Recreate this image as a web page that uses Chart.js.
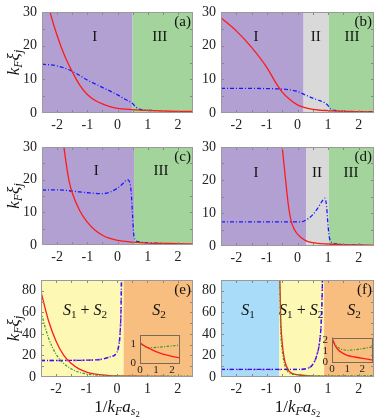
<!DOCTYPE html>
<html>
<head>
<meta charset="utf-8">
<script src="https://cdn.jsdelivr.net/npm/chart.js@4.4.0/dist/chart.umd.min.js"></script>
<style>
    html, body { margin: 0; padding: 0; background: #fff; }
    #wrap { position: relative; width: 382px; height: 417px; overflow: hidden; }
    canvas { position: absolute; }
</style>
</head>
<body>
<div id="wrap">
    <canvas id="pa" width="194" height="135" style="left:0;top:0"></canvas>
    <canvas id="pb" width="188" height="135" style="left:194px;top:0"></canvas>
    <canvas id="pc" width="194" height="133" style="left:0;top:135px"></canvas>
    <canvas id="pd" width="188" height="133" style="left:194px;top:135px"></canvas>
    <canvas id="pe" width="194" height="149" style="left:0;top:268px"></canvas>
    <canvas id="pf" width="188" height="149" style="left:194px;top:268px"></canvas>
    <canvas id="ie" width="64" height="52" style="left:120px;top:325px"></canvas>
    <canvas id="if" width="64" height="47" style="left:314px;top:328px"></canvas>
</div>
<script>
// ---- data ----
const xTicks = [-2, -1, 0, 1, 2];
const yTicksTop = [0, 10, 20, 30];
const yTicksBottom = [0, 20, 40, 60, 80];
const insetXTicks = [0, 1, 2];
const insetETicks = [0, 1];
const insetFTicks = [0, 1, 2];

// (a)
const aRedX = [-2.5, -2.25, -2, -1.75, -1.5, -1.25, -1, -0.75, -0.5, -0.25, 0, 0.5, 1, 1.5, 2, 2.5];
const aRedY = [40, 30.5, 23, 17, 12.3, 8.3, 5.5, 3.8, 2.7, 1.9, 1.4, 1.0, 0.75, 0.6, 0.5, 0.45];
const aBlueX = [-2.5, -2, -1.5, -1, -0.5, 0, 0.25, 0.5, 0.6, 0.75, 1, 1.3];
const aBlueY = [14.5, 14, 12.4, 9.8, 7.6, 5.4, 4.1, 2.8, 1.8, 1.1, 0.8, 0.7];
const aBounds = [-2.5, 0.5, 2.5];
const aLabels = ['I', 'III'];

// (b)
const bRedX = [-2.5, -2, -1.5, -1, -0.75, -0.5, -0.25, 0, 0.25, 0.5, 1, 1.5, 2, 2.5];
const bRedY = [28.3, 24.4, 19.5, 13.5, 9.6, 6.2, 4, 2.4, 1.6, 1.1, 0.7, 0.5, 0.4, 0.3];
const bBlueX = [-2.5, -2, -1.5, -1, -0.5, -0.25, 0, 0.25, 0.5, 0.75, 0.9, 1, 1.1, 1.3, 1.6, 2, 2.5];
const bBlueY = [7.3, 7.3, 7.3, 7.25, 7.1, 6.9, 6.4, 5.4, 4.4, 3.6, 3.0, 2.2, 1.1, 0.7, 0.5, 0.4, 0.35];
const bBounds = [-2.5, 0.2, 1.03, 2.5];
const bLabels = ['I', 'II', 'III'];

// (c)
const cRedX = [-2, -1.8, -1.7, -1.6, -1.5, -1.25, -1, -0.75, -0.5, -0.25, 0, 0.5, 1, 1.5, 2, 2.5];
const cRedY = [50, 32, 25, 19.5, 16, 10.5, 7, 4.6, 3, 2, 1.4, 0.9, 0.6, 0.5, 0.4, 0.35];
const cBlueX = [-2.5, -2, -1.5, -1, -0.5, -0.25, 0, 0.2, 0.33, 0.4, 0.45, 0.5, 0.53, 0.57, 0.7, 1, 1.5];
const cBlueY = [16.8, 16.9, 16.5, 16, 15.7, 16.2, 17.4, 19, 20, 19.3, 16.5, 9, 4, 1.8, 1, 0.7, 0.5];
const cBounds = [-2.5, 0.55, 2.5];
const cLabels = ['I', 'III'];

// (d)
const dRedX = [-0.6, -0.5, -0.4, -0.3, -0.2, -0.1, 0, 0.25, 0.5, 1, 1.5, 2, 2.5];
const dRedY = [40, 30, 21, 12.5, 7.3, 5, 3.6, 1.7, 1.0, 0.6, 0.4, 0.3, 0.25];
const dBlueX = [-2.5, -1, 0, 0.2, 0.35, 0.5, 0.65, 0.8, 0.9, 0.95, 1, 1.05, 1.15, 1.4, 1.8, 2.1];
const dBlueY = [7.3, 7.3, 7.3, 7.5, 8.3, 9.5, 11.3, 13.5, 14.5, 12, 6, 2.2, 1, 0.5, 0.3, 0.3];
const dBounds = [-2.5, 0.28, 1.03, 2.5];
const dLabels = ['I', 'II', 'III'];

// (e)
const eRedX = [-2.5, -2.25, -2, -1.75, -1.5, -1.25, -1, -0.75, -0.5, -0.25, 0, 0.5, 1, 1.5, 2, 2.5];
const eRedY = [79, 52, 33, 20, 12.5, 7.5, 4.6, 2.9, 1.9, 1.35, 1.07, 0.8, 0.6, 0.45, 0.35, 0.27];
const eGreenY = [60, 36, 21, 12.5, 7.5, 4.5, 2.8, 1.9, 1.4, 1.15, 1.05, 0.8, 0.82, 0.86, 0.9, 0.95];
const eBlueX = [-2.5, -2, -1.5, -1, -0.5, -0.25, 0, 0.05, 0.1, 0.13, 0.15];
const eBlueY = [15.3, 15.3, 15.4, 15.6, 16.5, 18.5, 23, 28, 40, 60, 95];
const eMagY = [15.3, 15.3, 15.4, 15.6, 16.5, 18.5, 23, 28, 40, 60, 95];
const eBounds = [-2.5, 0.22, 2.5];

// (f)
const fRedX = [-0.58, -0.55, -0.5, -0.45, -0.4, -0.3, -0.2, -0.1, 0, 0.2, 0.4, 0.7, 1, 1.5, 2, 2.5, 2.7];
const fRedY = [95, 55, 32, 20, 13, 6.5, 3.6, 2.6, 2.2, 1.5, 1.1, 0.8, 0.6, 0.45, 0.32, 0.22, 0.18];
const fGreenY = [90, 45, 25, 15, 9.5, 4.5, 2.8, 2.3, 2.0, 1.6, 1.3, 1.12, 1.05, 1.1, 1.2, 1.32, 1.36];
const fBlueX = [-2.5, -1.5, -0.5, 0, 0.2, 0.35, 0.45, 0.55, 0.65, 0.72, 0.77, 0.8, 0.82];
const fBlueY = [7, 7, 7, 7, 7.3, 8.3, 10, 14, 22, 32, 48, 70, 95];
const fMagY = [7, 7, 7, 7, 7.3, 8.3, 10, 14, 22, 32, 48, 70, 95];
const fBounds = [-2.5, -0.6, 0.87, 2.5];

// ---- styles ----
const FONT = '"Liberation Serif", "DejaVu Serif", serif';
const PURPLE = '#b3a0d3', GREEN = '#a2d49c', GRAY = '#d9d9d9';
const YELLOW = '#fdf8b4', ORANGE = '#f7be80', BLUE = '#a9dcf8';
Chart.defaults.font.family = FONT;

const red = (x, y) => ({ x, y, color: '#ff1a1a', w: 1.3 });
const blue = (x, y) => ({ x, y, color: '#1a1aff', w: 1.3, dash: [4, 2, 1, 2] });
const green = (x, y) => ({ x, y, color: '#3c9a24', w: 1.2, dash: [2.5, 1.5, 1, 1.5] });
const magenta = (x, y) => ({ x, y, color: '#d050d0', w: 1.6, dash: [4, 4] });

// rich text: segments [text, style] where style has i (italic), s (sub), ss (sub-sub)
function drawRich(ctx, segs, x, y, size, align) {
    const parts = segs.map(([t, st]) => {
        const sc = st.includes('ss') ? 0.5 : st.includes('s') ? 0.7 : 1;
        const dy = st.includes('ss') ? size * 0.42 : st.includes('s') ? size * 0.24 : 0;
        const font = (st.includes('i') ? 'italic ' : '') + (size * sc).toFixed(1) + 'px ' + FONT;
        ctx.font = font;
        return { t, font, dy, w: ctx.measureText(t).width };
    });
    const total = parts.reduce((s, p) => s + p.w, 0);
    let cx = align === 'center' ? x - total / 2 : align === 'right' ? x - total : x;
    ctx.textBaseline = 'middle';
    ctx.textAlign = 'left';
    parts.forEach(p => {
        ctx.font = p.font;
        ctx.fillText(p.t, cx, y + p.dy);
        cx += p.w;
    });
}

const Y_TITLE = [['k', 'i'], ['F', 'is'], ['ξ', 'i'], ['j', 'is']];
const X_TITLE = [['1/', ''], ['k', 'i'], ['F', 'is'], ['a', 'i'], ['s', 'is'], ['2', 'ss']];

function deco(cfg) {
    return {
        id: 'deco',
        beforeDatasetsDraw(chart) {
            const { ctx, chartArea: a, scales: { x, y } } = chart;
            ctx.save();
            if (cfg.bounds) {
                for (let i = 0; i < cfg.colors.length; i++) {
                    const x0 = x.getPixelForValue(cfg.bounds[i]);
                    const x1 = x.getPixelForValue(cfg.bounds[i + 1]);
                    ctx.fillStyle = cfg.colors[i];
                    ctx.fillRect(x0, a.top, x1 - x0, a.bottom - a.top);
                }
            }
            ctx.fillStyle = '#111';
            (cfg.labels || []).forEach(l => {
                drawRich(ctx, l.segs, x.getPixelForValue(l.x), y.getPixelForValue(l.y), l.size || 15, 'center');
            });
            ctx.restore();
        },
        afterDatasetsDraw(chart) {
            const { ctx, chartArea: a, scales: { x, y } } = chart;
            ctx.save();
            // inward minor ticks
            ctx.strokeStyle = '#888';
            ctx.lineWidth = 1;
            if (cfg.xMinor) {
                for (let v = x.min + cfg.xMinor; v < x.max - 1e-6; v += cfg.xMinor) {
                    const px = Math.round(x.getPixelForValue(v)) + 0.5;
                    ctx.beginPath();
                    ctx.moveTo(px, a.bottom); ctx.lineTo(px, a.bottom - 3);
                    ctx.moveTo(px, a.top); ctx.lineTo(px, a.top + 3);
                    ctx.stroke();
                }
            }
            if (cfg.yMinor) {
                for (let v = y.min + cfg.yMinor; v < y.max - 1e-6; v += cfg.yMinor) {
                    const py = Math.round(y.getPixelForValue(v)) + 0.5;
                    ctx.beginPath();
                    ctx.moveTo(a.left, py); ctx.lineTo(a.left + 3, py);
                    ctx.moveTo(a.right, py); ctx.lineTo(a.right - 3, py);
                    ctx.stroke();
                }
            }
            // frame
            ctx.strokeStyle = cfg.frame || '#9a9a9a';
            ctx.strokeRect(Math.round(a.left) + 0.5, Math.round(a.top) + 0.5,
                Math.round(a.right - a.left) - 1, Math.round(a.bottom - a.top) - 1);
            ctx.fillStyle = '#111';
            if (cfg.tag) {
                ctx.font = '15px ' + FONT;
                ctx.textAlign = 'right';
                ctx.textBaseline = 'middle';
                ctx.fillText(cfg.tag, a.right - 2, a.top + 10);
            }
            if (cfg.yTitle) {
                ctx.save();
                ctx.translate(15, (a.top + a.bottom) / 2);
                ctx.rotate(-Math.PI / 2);
                drawRich(ctx, Y_TITLE, 0, 0, 17, 'center');
                ctx.restore();
            }
            if (cfg.xTitle) {
                drawRich(ctx, X_TITLE, (a.left + a.right) / 2, a.bottom + 31, 17, 'center');
            }
            ctx.restore();
        }
    };
}

function panel(id, cfg) {
    const datasets = cfg.curves.map(c => ({
        data: c.x.map((v, i) => ({ x: v, y: c.y[i] })),
        borderColor: c.color,
        borderWidth: c.w,
        borderDash: c.dash || [],
        pointRadius: 0,
        fill: false,
        cubicInterpolationMode: 'monotone'
    }));
    const tickFont = { family: FONT, size: cfg.fontSize || 14, lineHeight: 1 };
    return new Chart(document.getElementById(id), {
        type: 'line',
        data: { datasets },
        options: {
            responsive: false,
            animation: false,
            events: [],
            layout: { padding: { top: cfg.pad[0], right: cfg.pad[1], bottom: 0, left: 0 } },
            plugins: { legend: { display: false }, tooltip: { enabled: false } },
            scales: {
                x: {
                    type: 'linear', min: cfg.xRange[0], max: cfg.xRange[1],
                    grid: { display: false, drawTicks: false },
                    border: { display: false },
                    ticks: { font: tickFont, color: '#222', padding: cfg.xPad || 5, maxRotation: 0, autoSkip: false },
                    afterBuildTicks: s => { s.ticks = cfg.xTicks.map(v => ({ value: v })); },
                    afterFit: s => { s.height = cfg.xH; }
                },
                y: {
                    type: 'linear', min: cfg.yRange[0], max: cfg.yRange[1],
                    grid: { display: false, drawTicks: false },
                    border: { display: false },
                    ticks: { font: tickFont, color: '#222', padding: cfg.yPad || 5, autoSkip: false },
                    afterBuildTicks: s => { s.ticks = cfg.yTicks.map(v => ({ value: v })); },
                    afterFit: s => { s.width = cfg.yW; }
                }
            }
        },
        plugins: [deco(cfg)]
    });
}

const roman = t => [[t, '']];
const S1S2 = [['S', 'i'], ['1', 's'], [' + ', ''], ['S', 'i'], ['2', 's']];
const S1 = [['S', 'i'], ['1', 's']];
const S2 = [['S', 'i'], ['2', 's']];

const topBase = { xRange: [-2.5, 2.5], yRange: [0, 30], xTicks, yTicks: yTicksTop, xMinor: 0.5, yMinor: 5 };
const botBase = { xRange: [-2.5, 2.5], yRange: [0, 90], xTicks, yTicks: yTicksBottom, xMinor: 0.5, yMinor: 10 };

panel('pa', Object.assign({}, topBase, {
    pad: [7, 1], yW: 42, xH: 22, tag: '(a)', yTitle: true,
    bounds: aBounds, colors: [PURPLE, GREEN],
    labels: [{ segs: roman(aLabels[0]), x: -0.75, y: 22.5 }, { segs: roman(aLabels[1]), x: 1.4, y: 22.5 }],
    curves: [red(aRedX, aRedY), blue(aBlueX, aBlueY)]
}));

panel('pb', Object.assign({}, topBase, {
    pad: [7, 8], yW: 27, xH: 22, tag: '(b)',
    bounds: bBounds, colors: [PURPLE, GRAY, GREEN],
    labels: [{ segs: roman(bLabels[0]), x: -1.36, y: 22.5 }, { segs: roman(bLabels[1]), x: 0.6, y: 22.5 },
        { segs: roman(bLabels[2]), x: 1.78, y: 22.5 }],
    curves: [red(bRedX, bRedY), blue(bBlueX, bBlueY)]
}));

panel('pc', Object.assign({}, topBase, {
    pad: [6, 1], yW: 42, xH: 23, tag: '(c)', yTitle: true,
    bounds: cBounds, colors: [PURPLE, GREEN],
    labels: [{ segs: roman(cLabels[0]), x: -0.7, y: 22.5 }, { segs: roman(cLabels[1]), x: 1.44, y: 22.5 }],
    curves: [red(cRedX, cRedY), blue(cBlueX, cBlueY)]
}));

panel('pd', Object.assign({}, topBase, {
    pad: [5, 8], yW: 27, xH: 22, tag: '(d)',
    bounds: dBounds, colors: [PURPLE, GRAY, GREEN],
    labels: [{ segs: roman(dLabels[0]), x: -1.36, y: 22 }, { segs: roman(dLabels[1]), x: 0.64, y: 22 },
        { segs: roman(dLabels[2]), x: 1.75, y: 22 }],
    curves: [red(dRedX, dRedY), blue(dBlueX, dBlueY)]
}));

panel('pe', Object.assign({}, botBase, {
    pad: [4, 1], yW: 41, xH: 40, tag: '(e)', yTitle: true, xTitle: true,
    bounds: eBounds, colors: [YELLOW, ORANGE],
    labels: [{ segs: S1S2, x: -1.05, y: 61, size: 16 }, { segs: S2, x: 1.38, y: 61, size: 16 }],
    curves: [green(eRedX, eGreenY), red(eRedX, eRedY), blue(eBlueX, eBlueY), magenta(eBlueX, eMagY)]
}));

panel('pf', Object.assign({}, botBase, {
    pad: [4, 8], yW: 27, xH: 40, tag: '(f)', xTitle: true,
    bounds: fBounds, colors: [BLUE, YELLOW, ORANGE],
    labels: [{ segs: S1, x: -1.62, y: 61, size: 16 }, { segs: S1S2, x: 0.12, y: 61, size: 16 },
        { segs: S2, x: 1.85, y: 61, size: 16 }],
    curves: [green(fRedX, fGreenY), red(fRedX, fRedY), blue(fBlueX, fBlueY), magenta(fBlueX, fMagY)]
}));

// insets
panel('ie', {
    xRange: [0, 2.5], yRange: [0, 1.5], xTicks: insetXTicks, yTicks: insetETicks,
    pad: [9, 4], yW: 20, xH: 14, fontSize: 11, xPad: 2, yPad: 4, frame: '#7a6a55',
    curves: [red(eRedX, eRedY), green(eRedX, eGreenY)]
});

panel('if', {
    xRange: [0, 2.7], yRange: [0, 2.2], xTicks: insetXTicks, yTicks: insetFTicks,
    pad: [9, 5], yW: 18, xH: 13, fontSize: 11, xPad: 2, yPad: 4, frame: '#7a6a55',
    curves: [red(fRedX, fRedY), green(fRedX, fGreenY)]
});
</script>
</body>
</html>
